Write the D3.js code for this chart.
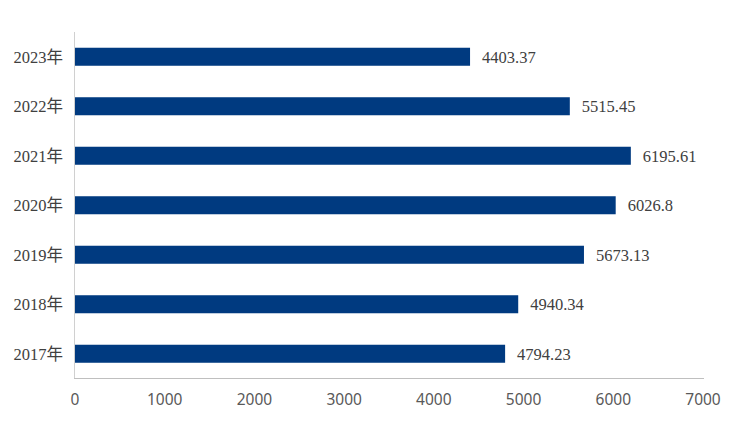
<!DOCTYPE html>
<html><head><meta charset="utf-8">
<script src="https://cdn.jsdelivr.net/npm/d3@7"></script>
<style>body{margin:0;background:#fff}</style>
</head><body><svg id="c" width="749" height="432"></svg>
<script>
const categories = ["2023年","2022年","2021年","2020年","2019年","2018年","2017年"];
const values = [4403.37, 5515.45, 6195.61, 6026.8, 5673.13, 4940.34, 4794.23];
const valueLabels = ["4403.37","5515.45","6195.61","6026.8","5673.13","4940.34","4794.23"];
const xTicks = [0,1000,2000,3000,4000,5000,6000,7000];

const svg = d3.select("#c");
const x = d3.scaleLinear().domain([0,7000]).range([75,703]);
const y = d3.scaleBand().domain(categories).range([32,378.5]).paddingInner(0.636).paddingOuter(0.318);

svg.selectAll("rect.bar").data(categories).join("rect")
  .attr("x", x(0)).attr("y", d=>y(d))
  .attr("width", (d,i)=>x(values[i])-x(0)).attr("height", y.bandwidth())
  .attr("fill","#003A80");

svg.append("line").attr("x1",74.5).attr("x2",74.5).attr("y1",32).attr("y2",378.5)
  .attr("stroke","#d0d0d0").attr("stroke-width",1);
svg.append("line").attr("x1",74).attr("x2",704).attr("y1",378.5).attr("y2",378.5)
  .attr("stroke","#bfbfbf").attr("stroke-width",1);

svg.selectAll("text.xt").data(xTicks).join("text")
  .attr("x", d=>x(d)).attr("y", 405).attr("text-anchor","middle")
  .attr("font-family","'Noto Sans', sans-serif").attr("font-size",15.5)
  .attr("fill","#595959").text(d=>d);

svg.selectAll("text.yl").data(categories).join("text")
  .attr("x", 63).attr("y", d=>y(d)+y.bandwidth()/2).attr("dy","0.35em")
  .attr("text-anchor","end")
  .attr("font-family","'Liberation Serif','Noto Sans CJK SC', serif").attr("font-size",16.5)
  .attr("fill","#404040").text(d=>d);

svg.selectAll("text.vl").data(categories).join("text")
  .attr("x", (d,i)=>x(values[i])+12).attr("y", d=>y(d)+y.bandwidth()/2).attr("dy","0.35em")
  .attr("font-family","'Liberation Serif', serif").attr("font-size",16.5)
  .attr("fill","#404040").text((d,i)=>valueLabels[i]);
</script></body></html>
